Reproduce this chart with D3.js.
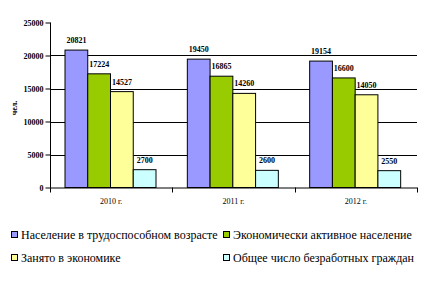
<!DOCTYPE html>
<html>
<head>
<meta charset="utf-8">
<script src="https://cdn.jsdelivr.net/npm/d3@7"></script>
<style>
body { margin: 0; background: #fff; }
svg { font-family: "Liberation Serif", "Times New Roman", serif; }
</style>
</head>
<body>
<div id="root"></div>
<script>
var years = ["2010 г.", "2011 г.", "2012 г."];
var seriesNames = ["Население в трудоспособном возрасте", "Экономически активное население",
                   "Занято в экономике", "Общее число безработных граждан"];
var seriesColors = ["#9999FF", "#99CC00", "#FFFF99", "#CCFFFF"];
var values = [
  [20821, 17224, 14527, 2700],
  [19450, 16865, 14260, 2600],
  [19154, 16600, 14050, 2550]
];
var yTicks = [0, 5000, 10000, 15000, 20000, 25000];

var svg = d3.select("#root").append("svg").attr("width", 442).attr("height", 281);

var plotLeft = 50, plotRight = 417, plotTop = 22.5, plotBottom = 187.5;

var x0 = d3.scaleBand().domain(years).range([plotLeft, plotRight]);
var x1 = d3.scaleBand().domain(d3.range(4)).range([15, 15 + 91]);
var y = d3.scaleLinear().domain([0, 25000]).range([plotBottom, plotTop]);

// gridlines
svg.append("g").selectAll("line")
  .data(yTicks.filter(function(d) { return d > 0 && d < 25000; }))
  .enter().append("line")
  .attr("x1", plotLeft).attr("x2", plotRight)
  .attr("y1", function(d) { return Math.round(y(d)) + 0.5; })
  .attr("y2", function(d) { return Math.round(y(d)) + 0.5; })
  .attr("stroke", "#000").attr("stroke-width", 1);

// bars
var groups = svg.append("g").selectAll("g")
  .data(values).enter().append("g")
  .attr("transform", function(d, i) { return "translate(" + x0(years[i]) + ",0)"; });

groups.selectAll("rect")
  .data(function(d) { return d; })
  .enter().append("rect")
  .attr("x", function(d, i) { return x1(i); })
  .attr("width", x1.bandwidth())
  .attr("y", function(d) { return y(d); })
  .attr("height", function(d) { return plotBottom - y(d); })
  .attr("fill", function(d, i) { return seriesColors[i]; })
  .attr("stroke", "#000").attr("stroke-width", 1);

groups.selectAll("text")
  .data(function(d) { return d; })
  .enter().append("text")
  .attr("x", function(d, i) { return x1(i) + x1.bandwidth() / 2; })
  .attr("y", function(d) { return y(d) - 7; })
  .attr("text-anchor", "middle")
  .attr("font-size", 8).attr("font-weight", "bold")
  .attr("fill", "#000")
  .text(function(d) { return d; });

// y axis
var yAxis = d3.axisLeft(y).tickValues(yTicks).tickSize(5).tickPadding(2).tickFormat(d3.format("d"));
svg.append("g").attr("transform", "translate(" + (plotLeft + 0.5) + ",0)").call(yAxis)
  .call(function(g) {
    g.selectAll("text").attr("font-size", 8).attr("font-family", "Liberation Serif").attr("font-weight", "bold");
    g.select(".domain").remove();
  });
svg.append("line").attr("x1", plotLeft + 0.5).attr("x2", plotLeft + 0.5).attr("y1", plotTop).attr("y2", plotBottom)
  .attr("stroke", "#000");

// x axis
svg.append("line").attr("x1", plotLeft).attr("x2", plotRight).attr("y1", plotBottom + 0.5).attr("y2", plotBottom + 0.5)
  .attr("stroke", "#000");
svg.append("g").selectAll("line")
  .data(years.concat(["end"]))
  .enter().append("line")
  .attr("x1", function(d, i) { return Math.round(plotLeft + i * x0.bandwidth()) + 0.5; })
  .attr("x2", function(d, i) { return Math.round(plotLeft + i * x0.bandwidth()) + 0.5; })
  .attr("y1", plotBottom).attr("y2", plotBottom + 5)
  .attr("stroke", "#000");
svg.append("g").selectAll("text")
  .data(years).enter().append("text")
  .attr("x", function(d) { return x0(d) + x0.bandwidth() / 2; })
  .attr("y", 204)
  .attr("text-anchor", "middle")
  .attr("font-size", 8)
  .text(function(d) { return d; });

// y title
svg.append("text")
  .attr("transform", "translate(17,108) rotate(-90)")
  .attr("text-anchor", "middle")
  .attr("font-size", 8).attr("font-weight", "bold")
  .text("чел.");

// legend
var legend = svg.append("g").selectAll("g")
  .data(seriesNames).enter().append("g")
  .attr("transform", function(d, i) {
    return "translate(" + (i % 2 === 0 ? 11 : 223) + "," + (i < 2 ? 235 : 258) + ")";
  });
legend.append("rect")
  .attr("x", 0.5).attr("y", -3.5).attr("width", 6).attr("height", 6)
  .attr("fill", function(d, i) { return seriesColors[i]; })
  .attr("stroke", "#000");
legend.append("text")
  .attr("x", 10).attr("y", 4)
  .attr("font-size", 12)
  .text(function(d) { return d; });
</script>
</body>
</html>
